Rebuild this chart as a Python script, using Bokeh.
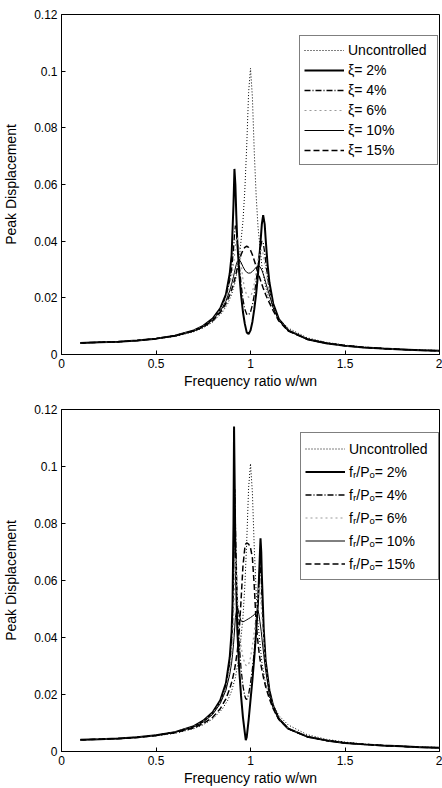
from bokeh.plotting import figure
from bokeh.models import Range1d, Legend, LegendItem, FixedTicker
from bokeh.layouts import column
from bokeh.embed import file_html
from bokeh.resources import INLINE

FONT = "Liberation Sans"

# ---------------- tick labels ----------------
x_tick_vals = [0, 0.5, 1, 1.5, 2]
x_tick_labels = ["0", "0.5", "1", "1.5", "2"]
y_tick_vals = [0, 0.02, 0.04, 0.06, 0.08, 0.1, 0.12]
y_tick_labels = ["0", "0.02", "0.04", "0.06", "0.08", "0.1", "0.12"]

x_label = "Frequency ratio w/wn"
y_label = "Peak Displacement"

# ---------------- uncontrolled response (both panels) ----------------
x_unc = [0.1, 0.2, 0.3, 0.4, 0.5, 0.6, 0.7, 0.75, 0.8, 0.85, 0.88, 0.9, 0.92, 0.94,
         0.96, 0.97, 0.98, 0.99, 1.0, 1.01, 1.02, 1.03, 1.04, 1.06, 1.08, 1.1, 1.15,
         1.2, 1.3, 1.4, 1.5, 1.6, 1.7, 1.8, 1.9, 2.0]
y_unc = [0.0041, 0.0043, 0.0045, 0.0049, 0.0055, 0.0064, 0.0080, 0.0094, 0.0114, 0.0148,
         0.0180, 0.0212, 0.0259, 0.0335, 0.0470, 0.0580, 0.0736, 0.0925, 0.1010, 0.0909,
         0.0714, 0.0560, 0.0448, 0.0314, 0.0239, 0.0191, 0.0126, 0.0093, 0.0059, 0.0043,
         0.0033, 0.0026, 0.0022, 0.0018, 0.0016, 0.0014]

# ---------------- panel 1: damping ratio xi ----------------
labels_1 = ["Uncontrolled", "ξ= 2%", "ξ= 4%", "ξ= 6%", "ξ= 10%", "ξ= 15%"]
x_1 = [0.1, 0.2, 0.3, 0.4, 0.5, 0.6, 0.7, 0.75, 0.8, 0.84, 0.87, 0.89, 0.9, 0.91, 0.915,
       0.92, 0.925, 0.93, 0.94, 0.95, 0.96, 0.97, 0.98, 0.99, 1.0, 1.01, 1.02, 1.03, 1.04,
       1.05, 1.06, 1.067, 1.075, 1.08, 1.09, 1.1, 1.12, 1.15, 1.2, 1.3, 1.4, 1.5, 1.6, 1.7,
       1.8, 1.9, 2.0]
xi_2 = [0.0041, 0.0043, 0.0045, 0.0049, 0.0056, 0.0066, 0.0085, 0.0101, 0.0127, 0.0163,
        0.0212, 0.0285, 0.0350, 0.0530, 0.0655, 0.0600, 0.0490, 0.0400, 0.0290, 0.0210,
        0.0150, 0.0108, 0.0078, 0.0072, 0.0085, 0.0115, 0.0160, 0.0215, 0.0285, 0.0370,
        0.0460, 0.0492, 0.0460, 0.0410, 0.0320, 0.0255, 0.0180, 0.0125, 0.0085, 0.0054,
        0.0040, 0.0031, 0.0025, 0.0021, 0.0018, 0.0015, 0.0013]
xi_4 = [0.0041, 0.0043, 0.0045, 0.0049, 0.0056, 0.0066, 0.0084, 0.0100, 0.0125, 0.0160,
        0.0205, 0.0260, 0.0300, 0.0370, 0.0420, 0.0455, 0.0440, 0.0400, 0.0320, 0.0250,
        0.0195, 0.0160, 0.0142, 0.0140, 0.0150, 0.0175, 0.0210, 0.0260, 0.0315, 0.0370,
        0.0400, 0.0395, 0.0360, 0.0330, 0.0275, 0.0230, 0.0170, 0.0122, 0.0084, 0.0054,
        0.0040, 0.0031, 0.0025, 0.0021, 0.0018, 0.0015, 0.0013]
xi_6 = [0.0041, 0.0043, 0.0045, 0.0049, 0.0056, 0.0066, 0.0084, 0.0099, 0.0123, 0.0157,
        0.0198, 0.0245, 0.0275, 0.0320, 0.0350, 0.0380, 0.0405, 0.0415, 0.0380, 0.0320,
        0.0265, 0.0230, 0.0210, 0.0202, 0.0205, 0.0220, 0.0250, 0.0290, 0.0335, 0.0365,
        0.0370, 0.0355, 0.0325, 0.0300, 0.0260, 0.0222, 0.0168, 0.0121, 0.0084, 0.0054,
        0.0040, 0.0031, 0.0025, 0.0021, 0.0018, 0.0015, 0.0013]
xi_10 = [0.0041, 0.0043, 0.0045, 0.0049, 0.0056, 0.0066, 0.0083, 0.0098, 0.0121, 0.0152,
         0.0188, 0.0225, 0.0248, 0.0275, 0.0290, 0.0305, 0.0318, 0.0328, 0.0335, 0.0325,
         0.0310, 0.0298, 0.0290, 0.0287, 0.0288, 0.0293, 0.0300, 0.0308, 0.0313, 0.0310,
         0.0298, 0.0285, 0.0268, 0.0255, 0.0232, 0.0210, 0.0165, 0.0120, 0.0084, 0.0054,
         0.0040, 0.0031, 0.0025, 0.0021, 0.0018, 0.0015, 0.0013]
xi_15 = [0.0041, 0.0043, 0.0045, 0.0049, 0.0056, 0.0066, 0.0083, 0.0097, 0.0119, 0.0148,
         0.0180, 0.0210, 0.0228, 0.0250, 0.0262, 0.0275, 0.0290, 0.0305, 0.0330, 0.0352,
         0.0368, 0.0378, 0.0382, 0.0378, 0.0368, 0.0352, 0.0332, 0.0310, 0.0288, 0.0268,
         0.0248, 0.0235, 0.0221, 0.0212, 0.0196, 0.0182, 0.0155, 0.0118, 0.0083, 0.0054,
         0.0040, 0.0031, 0.0025, 0.0021, 0.0018, 0.0015, 0.0013]

# ---------------- panel 2: friction ratio fr/Po ----------------
labels_2 = ["Uncontrolled", "fᵣ/Pₒ= 2%", "fᵣ/Pₒ= 4%", "fᵣ/Pₒ= 6%", "fᵣ/Pₒ= 10%", "fᵣ/Pₒ= 15%"]
x_2 = [0.1, 0.2, 0.3, 0.4, 0.5, 0.6, 0.7, 0.75, 0.8, 0.84, 0.87, 0.89, 0.9, 0.905, 0.91,
       0.913, 0.917, 0.92, 0.93, 0.94, 0.95, 0.96, 0.97, 0.975, 0.98, 0.99, 1.0, 1.01, 1.02,
       1.03, 1.04, 1.045, 1.05, 1.053, 1.057, 1.06, 1.07, 1.08, 1.1, 1.12, 1.15, 1.2, 1.3,
       1.4, 1.5, 1.6, 1.7, 1.8, 1.9, 2.0]
fr_2 = [0.0041, 0.0043, 0.0046, 0.0050, 0.0057, 0.0068, 0.0089, 0.0108, 0.0138, 0.0180,
        0.0240, 0.0330, 0.0420, 0.0520, 0.0800, 0.1140, 0.0900, 0.0700, 0.0430, 0.0290,
        0.0195, 0.0120, 0.0065, 0.0040, 0.0050, 0.0110, 0.0180, 0.0250, 0.0330, 0.0420,
        0.0530, 0.0610, 0.0700, 0.0748, 0.0700, 0.0620, 0.0430, 0.0320, 0.0215, 0.0160,
        0.0115, 0.0080, 0.0052, 0.0039, 0.0030, 0.0025, 0.0021, 0.0018, 0.0015, 0.0013]
fr_4 = [0.0041, 0.0043, 0.0046, 0.0050, 0.0057, 0.0068, 0.0088, 0.0106, 0.0135, 0.0175,
        0.0230, 0.0310, 0.0380, 0.0450, 0.0600, 0.0750, 0.0920, 0.0800, 0.0520, 0.0380,
        0.0290, 0.0230, 0.0195, 0.0185, 0.0182, 0.0200, 0.0240, 0.0290, 0.0350, 0.0430,
        0.0530, 0.0590, 0.0655, 0.0650, 0.0600, 0.0550, 0.0410, 0.0310, 0.0210, 0.0158,
        0.0114, 0.0080, 0.0052, 0.0039, 0.0030, 0.0025, 0.0021, 0.0018, 0.0015, 0.0013]
fr_6 = [0.0041, 0.0043, 0.0046, 0.0050, 0.0057, 0.0068, 0.0087, 0.0105, 0.0133, 0.0172,
        0.0222, 0.0290, 0.0340, 0.0390, 0.0460, 0.0520, 0.0610, 0.0680, 0.0560, 0.0440,
        0.0370, 0.0330, 0.0310, 0.0303, 0.0300, 0.0305, 0.0330, 0.0370, 0.0420, 0.0480,
        0.0550, 0.0580, 0.0570, 0.0545, 0.0510, 0.0480, 0.0380, 0.0300, 0.0205, 0.0155,
        0.0113, 0.0080, 0.0052, 0.0039, 0.0030, 0.0025, 0.0021, 0.0018, 0.0015, 0.0013]
fr_10 = [0.0041, 0.0043, 0.0046, 0.0050, 0.0057, 0.0068, 0.0086, 0.0103, 0.0130, 0.0168,
         0.0215, 0.0270, 0.0310, 0.0340, 0.0375, 0.0400, 0.0440, 0.0470, 0.0510, 0.0480,
         0.0458, 0.0455, 0.0458, 0.0460, 0.0462, 0.0466, 0.0470, 0.0475, 0.0480, 0.0488,
         0.0495, 0.0480, 0.0455, 0.0440, 0.0420, 0.0400, 0.0340, 0.0285, 0.0200, 0.0152,
         0.0112, 0.0079, 0.0052, 0.0039, 0.0030, 0.0025, 0.0021, 0.0018, 0.0015, 0.0013]
fr_15 = [0.0041, 0.0043, 0.0045, 0.0049, 0.0056, 0.0066, 0.0083, 0.0098, 0.0120, 0.0150,
         0.0185, 0.0220, 0.0242, 0.0255, 0.0270, 0.0280, 0.0293, 0.0305, 0.0350, 0.0420,
         0.0530, 0.0650, 0.0715, 0.0728, 0.0732, 0.0728, 0.0715, 0.0680, 0.0580, 0.0450,
         0.0380, 0.0350, 0.0325, 0.0312, 0.0298, 0.0288, 0.0255, 0.0228, 0.0185, 0.0150,
         0.0112, 0.0080, 0.0052, 0.0039, 0.0030, 0.0025, 0.0021, 0.0018, 0.0015, 0.0013]

for s in (xi_2, xi_4, xi_6, xi_10, xi_15):
    assert len(s) == len(x_1), len(s)
for s in (fr_2, fr_4, fr_6, fr_10, fr_15):
    assert len(s) == len(x_2), len(s)
assert len(x_unc) == len(y_unc)

styles = [
    dict(line_color="black", line_width=1.0, line_dash="1 2"),          # uncontrolled
    dict(line_color="black", line_width=2.0),                            # 2%
    dict(line_color="black", line_width=1.3, line_dash="6 2 1 2"),       # 4%
    dict(line_color="#9a9a9a", line_width=1.2, line_dash="2 3"),         # 6%
    dict(line_color="black", line_width=1.0),                            # 10%
    dict(line_color="black", line_width=1.5, line_dash="6 3"),           # 15%
]


def style_axis(ax):
    ax.major_tick_in = 4
    ax.major_tick_out = 0
    ax.minor_tick_line_color = None
    ax.axis_line_color = "black"
    ax.major_tick_line_color = "black"
    ax.major_label_text_font = FONT
    ax.major_label_text_font_size = "12px"
    ax.major_label_text_color = "black"
    ax.major_label_standoff = 4
    ax.axis_label_text_font = FONT
    ax.axis_label_text_font_size = "14px"
    ax.axis_label_text_font_style = "normal"
    ax.axis_label_text_color = "black"


def make_panel(height, b_top, b_bottom, xs, series, labels, legend_xy, label_h):
    p = figure(width=442, height=height, x_range=Range1d(0, 2), y_range=Range1d(0, 0.12),
               output_backend="svg", toolbar_location=None,
               min_border_left=61, min_border_right=3,
               min_border_top=b_top, min_border_bottom=b_bottom,
               x_axis_label=x_label, y_axis_label=y_label)
    p.xgrid.visible = False
    p.ygrid.visible = False
    p.outline_line_color = "black"
    p.outline_line_width = 1
    p.background_fill_color = "white"
    p.border_fill_color = "white"

    p.xaxis.ticker = FixedTicker(ticks=x_tick_vals)
    p.xaxis.major_label_overrides = dict(zip(x_tick_vals, x_tick_labels))
    p.yaxis.ticker = FixedTicker(ticks=y_tick_vals)
    p.yaxis.major_label_overrides = dict(zip(y_tick_vals, y_tick_labels))
    style_axis(p.xaxis[0])
    style_axis(p.yaxis[0])
    p.xaxis.axis_label_standoff = 2
    p.yaxis.axis_label_standoff = 12

    rends = [p.line(x_unc, y_unc, **styles[0])]
    for ys, st in zip(series, styles[1:]):
        rends.append(p.line(xs, ys, **st))

    items = [LegendItem(label=l, renderers=[r]) for l, r in zip(labels, rends)]
    leg = Legend(items=items, location=legend_xy,
                 label_text_font=FONT, label_text_font_size="14px",
                 label_text_color="black",
                 glyph_width=40, glyph_height=label_h, label_height=label_h,
                 label_width=85, label_standoff=4, spacing=0, padding=4,
                 border_line_color="black", border_line_width=1,
                 background_fill_color="white", background_fill_alpha=1.0)
    p.add_layout(leg)
    return p


p1 = make_panel(398, 14, 44, x_1, [xi_2, xi_4, xi_6, xi_10, xi_15], labels_1, (238, 189), 20)
p2 = make_panel(390, 11, 37, x_2, [fr_2, fr_4, fr_6, fr_10, fr_15], labels_2, (239, 171), 23)

layout = column(p1, p2, spacing=0)
open("out.html", "w").write(file_html(layout, INLINE))
